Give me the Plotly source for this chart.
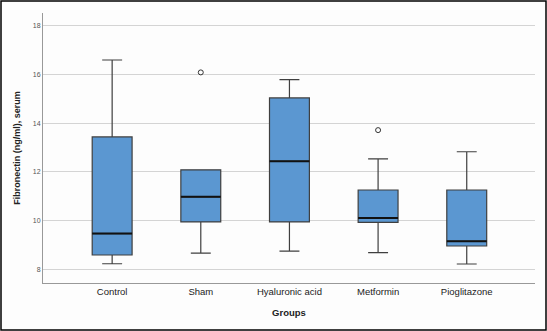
import plotly.graph_objects as go

groups = ["Control", "Sham", "Hyaluronic acid", "Metformin", "Pioglitazone"]
lower = [8.23, 8.67, 8.75, 8.69, 8.22]
q1 = [8.59, 9.95, 9.95, 9.93, 8.96]
median = [9.47, 10.98, 12.44, 10.11, 9.15]
q3 = [13.44, 12.09, 15.04, 11.26, 11.26]
upper = [16.6, 12.09, 15.79, 12.54, 12.83]
outlier_groups = ["Sham", "Metformin"]
outlier_values = [16.09, 13.72]
y_ticks = [8, 10, 12, 14, 16, 18]

FONT = "Liberation Sans, Arial, sans-serif"
fig = go.Figure()
fig.add_trace(go.Box(
    x=groups, q1=q1, median=median, q3=q3,
    lowerfence=lower, upperfence=upper,
    fillcolor="#5b97d1", line=dict(color="#3f3f3f", width=1.2),
    width=0.45, whiskerwidth=0.5, boxpoints=False, showlegend=False,
    hoverinfo="skip",
))
# thick median line: degenerate box collapsed onto the median
fig.add_trace(go.Box(
    x=groups, q1=median, median=median, q3=median,
    lowerfence=median, upperfence=median,
    fillcolor="rgba(0,0,0,0)", line=dict(color="#111111", width=2),
    width=0.45, whiskerwidth=0, boxpoints=False, showlegend=False,
    hoverinfo="skip",
))
fig.add_trace(go.Scatter(
    x=outlier_groups, y=outlier_values, mode="markers",
    marker=dict(symbol="circle-open", size=5, color="#333333", line=dict(width=1)),
    showlegend=False, hoverinfo="skip",
))

L, R, T, B = 43, 12, 13, 48
W, H = 547, 331
pw, ph = W - L - R, H - T - B
fig.update_layout(
    width=W, height=H, boxmode="overlay",
    margin=dict(l=L, r=R, t=T, b=B),
    paper_bgcolor="#fdfdfd", plot_bgcolor="#fdfdfd",
    font=dict(family=FONT, color="#222222"),
    xaxis=dict(
        range=[-0.78, 4.77], showgrid=False, showline=True, linecolor="#999999",
        linewidth=1, ticks="", tickfont=dict(size=9.5, color="#222222"),
        title=dict(text="<b>Groups</b>", font=dict(size=9.5, color="#222222"), standoff=12),
    ),
    yaxis=dict(
        range=[7.44, 18.53], tickvals=y_ticks, showgrid=True, gridcolor="#d4d4d4",
        gridwidth=1, showline=True, linecolor="#999999", linewidth=1, zeroline=False,
        ticks="", tickfont=dict(size=7, color="#555555"),
        title=dict(text="<b>Fibronectin (ng/ml), serum</b>", font=dict(size=9, color="#222222"), standoff=10),
    ),
    shapes=[dict(
        type="rect", xref="paper", yref="paper",
        x0=-(L - 1) / pw, x1=1 + (R - 1) / pw, y0=-(B - 1) / ph, y1=1 + (T - 1) / ph,
        line=dict(color="#000000", width=1.5), layer="above",
    )],
)
fig.write_html("out.html", config={"displayModeBar": False},
               post_script="document.body.style.margin='0px';")
